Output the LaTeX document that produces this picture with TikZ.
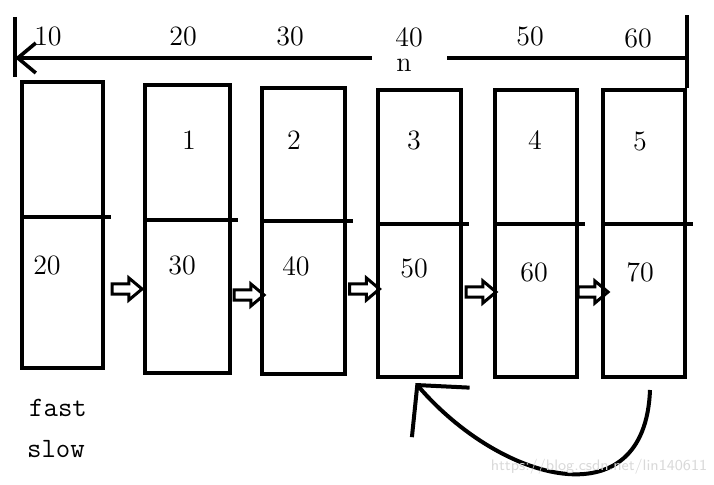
\documentclass[tikz,border=0pt]{standalone}
\usepackage{tikz}
\usetikzlibrary{arrows.meta,positioning,calc,shapes.arrows}

\tikzset{
  cell/.style={draw, line width=2pt, inner sep=0pt},
  rule/.style={line width=1.8pt},
  pipe/.style={single arrow, draw, line width=1.5pt, inner sep=1.8pt, minimum height=15pt,
               single arrow head extend=3pt, single arrow tip angle=80},
  num/.style={font=\fontsize{14}{16}\selectfont, inner sep=0pt},
  word/.style={font=\ttfamily\fontsize{14}{16}\selectfont, inner sep=0pt},
}

\begin{document}
\begin{tikzpicture}[x=0.5pt, y=-0.5pt]
  \useasboundingbox (0,0) rectangle (714,485);
  % list nodes
  \foreach \i/\x/\y/\w/\h/\dv in {1/62.5/225/81/286/217, 2/187.5/229/85/288/220, 3/303.5/231/83/286/221,
                                  4/419.5/233.5/83/287/224, 5/536/233.5/82/287/224, 6/644/233.5/82/287/224} {
    \node[cell, minimum width=\w*0.5pt, minimum height=\h*0.5pt] (b\i) at (\x,\y) {};
    \draw[rule] (b\i.west |- 0,\dv) -- ($(b\i.east |- 0,\dv)+(6,0)$);
  }
  \foreach \i/\x/\y in {1/189/140, 2/294/140, 3/414/140, 4/535/140, 5/640/142}
    \node[num] (idx\i) at (\x,\y) {\i};
  \foreach \v/\x/\y in {20/47/265, 30/182/265, 40/296/266, 50/414/268, 60/534/272, 70/640/272}
    \node[num] (val\v) at (\x,\y) {\v};
  \foreach \v/\x/\y in {10/48/36, 20/183/36, 30/290/36, 40/409/37, 50/530/36, 60/638/38}
    \node[num] (top\v) at (\x,\y) {\v};
  \node[num] (n) at (404,65) {n};
  \node[word] (fast) at (58,408) {fast};
  \node[word] (slow) at (56,449) {slow};

  % next pointers
  \node[pipe] (p12) at ($(b1.east |- 0,289)!0.5!(b2.west |- 0,289)$) {};
  \node[pipe] (p23) at ($(b2.east |- 0,295)!0.5!(b3.west |- 0,295)$) {};
  \node[pipe] (p34) at ($(b3.east |- 0,289)!0.5!(b4.west |- 0,289)$) {};
  \node[pipe] (p45) at ($(b4.east |- 0,292)!0.5!(b5.west |- 0,292)$) {};
  \node[pipe] (p56) at ($(b5.east |- 0,292)!0.5!(b6.west |- 0,292)$) {};

  % top line
  \coordinate (tr) at (b6.north east |- 0,58);
  \coordinate (tl) at (15,58);
  \coordinate (gapL) at (372,58);
  \coordinate (gapR) at (447,58);
  \draw[rule] (b6.north east) -- ++(0,-73);
  \draw[rule] (tr) -- (gapR);
  \draw[rule, -{Straight Barb[length=9pt, width=15pt]}] (gapL) -- (tl);
  \draw[rule] (tl) ++(0,-41) -- ++(0,60);

  % loop back
  \coordinate (loopS) at ([shift={(6,11)}]b6.south);
  \coordinate (loopE) at ([shift={(-4,4)}]b4.south);
  \draw[line width=2pt, -{Straight Barb[length=18pt, width=38pt]}]
    (loopS) .. controls +(-5,132) and +(85,99) .. (loopE);

  \node[font=\sffamily\fontsize{7.6}{9}\selectfont, text=gray!30, inner sep=0pt] (mark) at (599,467) {https://blog.csdn.net/lin140611};
\end{tikzpicture}
\end{document}
